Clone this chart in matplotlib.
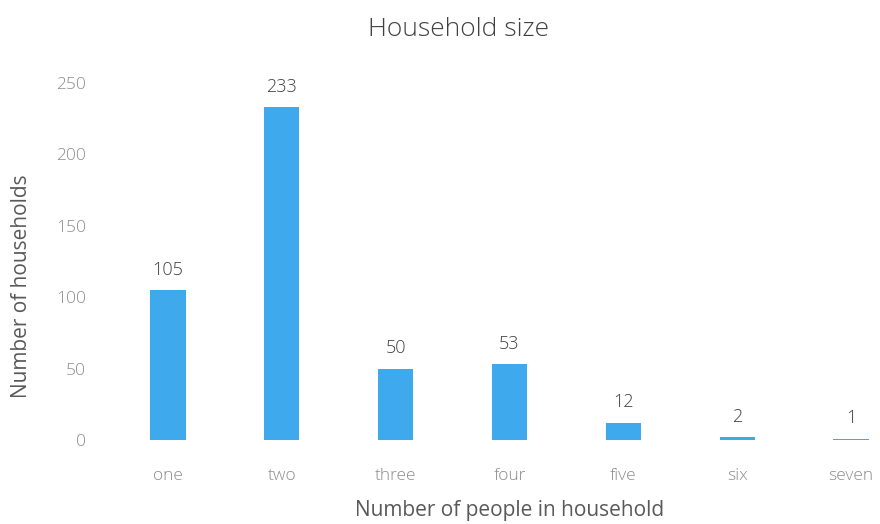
import matplotlib.pyplot as plt

plt.rcParams['font.family'] = ['Open Sans', 'DejaVu Sans']
plt.rcParams['font.weight'] = 'light'

sizes = ['one', 'two', 'three', 'four', 'five', 'six', 'seven']
households = [105, 233, 50, 53, 12, 2, 1]

fig = plt.figure(figsize=(8.8, 5.24), dpi=100)
# axes runs a bit past the right edge, like the cropped original
ax = fig.add_axes([111 / 880, 84 / 524, 797 / 880, 357 / 524])

x = range(len(sizes))
bars = ax.bar(x, households, width=0.31, color='#3FA9EE')

for b, v in zip(bars, households):
    ax.text(b.get_x() + b.get_width() / 2, v + 8, str(v),
            ha='center', va='bottom', fontsize=13, color='#404040')

ax.set_xlim(-0.5, len(sizes) - 0.5)
ax.set_ylim(0, 250)
ax.set_yticks([0, 50, 100, 150, 200, 250])
ax.set_xticks(list(x))
ax.set_xticklabels(sizes)

for s in ax.spines.values():
    s.set_visible(False)
ax.tick_params(length=0, labelsize=12.5, colors='#8c8c8c')
ax.tick_params(axis='x', pad=20)
ax.tick_params(axis='y', pad=18)

ax.set_xlabel('Number of people in household', fontsize=15, color='#595959')
ax.set_ylabel('Number of households', fontsize=15, color='#595959')
ax.xaxis.set_label_coords(0.5, -0.168)
ax.yaxis.set_label_coords(-0.099, 0.43)
fig.text(458 / 880, 1 - 30 / 524, 'Household size', ha='center', va='center',
         fontsize=19, color='#404040')

fig.savefig('out.png', dpi=100)
